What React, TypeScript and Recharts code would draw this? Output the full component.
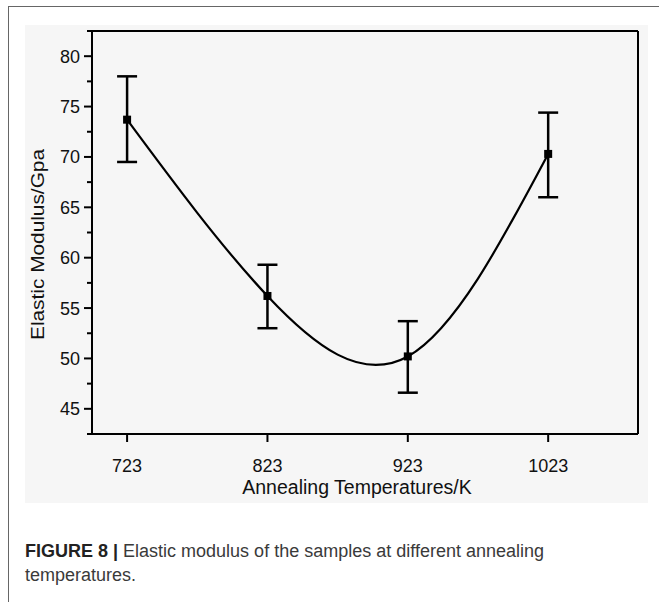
import React from "react";
import { LineChart, Line, XAxis, YAxis, ErrorBar, ReferenceLine, Label } from "recharts";

const temps = [723, 823, 923, 1023];
const modulus = [73.7, 56.2, 50.2, 70.3];
const errLow = [69.5, 53.0, 46.6, 66.0];
const errHigh = [78.0, 59.3, 53.7, 74.4];
const xTicks = [723, 823, 923, 1023];
const yTicks = [42.5, 45, 47.5, 50, 52.5, 55, 57.5, 60, 62.5, 65, 67.5, 70, 72.5, 75, 77.5, 80, 82.5];

const data = temps.map((t, i) => ({
  temp: t,
  modulus: modulus[i],
  err: [modulus[i] - errLow[i], errHigh[i] - modulus[i]],
}));

const font = "'Liberation Sans', Arial, sans-serif";
const bg = "#f6f6f6";

function YTick({ x, y, payload }: any) {
  const major = Math.abs(payload.value % 5) < 0.01;
  return (
    <g>
      <line x1={x} x2={x - (major ? 8 : 5)} y1={y} y2={y} stroke="#000" strokeWidth={2} />
      {major && (
        <text x={x - 12} y={y} dy="0.36em" textAnchor="end" fontSize={18} fontFamily={font} fill="#111">
          {payload.value}
        </text>
      )}
    </g>
  );
}

function XTick({ x, y, payload }: any) {
  return (
    <g>
      <line x1={x} x2={x} y1={y} y2={y + 8} stroke="#000" strokeWidth={2} />
      <text x={x} y={y + 38} textAnchor="middle" fontSize={18} fontFamily={font} fill="#111">
        {payload.value}
      </text>
    </g>
  );
}

function Square({ cx, cy }: any) {
  if (cx == null || cy == null) return null;
  return <rect x={cx - 4} y={cy - 4} width={8} height={8} fill="#000" />;
}

export default function App() {
  return (
    <div style={{ position: "absolute", left: 0, top: 0, width: 659, height: 602, background: "#fff", overflow: "hidden" }}>
      <div style={{ position: "absolute", left: 8, top: 6, right: 0, height: 0, borderTop: "1.5px solid #666" }} />
      <div style={{ position: "absolute", left: 8, top: 6, bottom: 0, width: 0, borderLeft: "1.5px solid #666" }} />
      <div style={{ position: "absolute", left: 25, top: 25, width: 623, height: 478, background: bg }}>
        <LineChart width={623} height={478} data={data} margin={{ top: 6, right: 10, left: 0, bottom: 0 }}>
          <XAxis
            dataKey="temp"
            type="number"
            domain={[698, 1087]}
            ticks={xTicks}
            interval={0}
            tick={<XTick />}
            tickSize={0}
            tickMargin={0}
            height={69}
            axisLine={{ stroke: "#000", strokeWidth: 2 }}
            allowDataOverflow
          >
            <Label
              content={({ viewBox }: any) => (
                <text
                  x={viewBox.x + viewBox.width / 2 - 8}
                  y={viewBox.y + 60}
                  textAnchor="middle"
                  fontSize={19.5}
                  fontFamily={font}
                  fill="#111"
                >
                  Annealing Temperatures/K
                </text>
              )}
            />
          </XAxis>
          <YAxis
            type="number"
            domain={[42.5, 82.5]}
            ticks={yTicks}
            interval={0}
            tick={<YTick />}
            tickSize={0}
            tickMargin={0}
            width={67}
            axisLine={{ stroke: "#000", strokeWidth: 2 }}
            allowDataOverflow
          >
            <Label
              content={({ viewBox }: any) => {
                const lx = viewBox.x + 19;
                const ly = viewBox.y + viewBox.height / 2 + 12;
                return (
                  <text
                    x={lx}
                    y={ly}
                    textAnchor="middle"
                    fontSize={19}
                    fontFamily={font}
                    fill="#111"
                    textLength={191}
                    lengthAdjust="spacingAndGlyphs"
                    transform={`rotate(-90, ${lx}, ${ly})`}
                  >
                    Elastic Modulus/Gpa
                  </text>
                );
              }}
            />
          </YAxis>
          <ReferenceLine y={82.5} stroke="#000" strokeWidth={2} ifOverflow="visible" />
          <ReferenceLine x={1087} stroke="#000" strokeWidth={2} ifOverflow="visible" />
          <Line
            type="natural"
            dataKey="modulus"
            stroke="#000"
            strokeWidth={2.2}
            dot={<Square />}
            activeDot={false}
            isAnimationActive={false}
          >
            <ErrorBar dataKey="err" direction="y" width={10} stroke="#000" strokeWidth={2.5} isAnimationActive={false} />
          </Line>
        </LineChart>
      </div>
      <div
        style={{
          position: "absolute",
          left: 25,
          top: 539,
          width: 625,
          fontFamily: font,
          fontSize: 18,
          lineHeight: "24px",
          color: "#3a3a3a",
        }}
      >
        <b style={{ color: "#222" }}>FIGURE 8 |</b> Elastic modulus of the samples at different annealing
        <br />
        temperatures.
      </div>
    </div>
  );
}
